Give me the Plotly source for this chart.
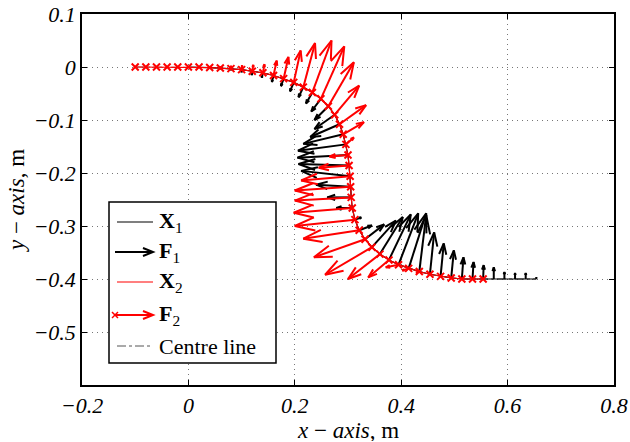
import plotly.graph_objects as go

# ---------------- data ----------------
# sampled positions along the centre line (x, y) in m
path_x = [-0.100, -0.080, -0.060, -0.040, -0.020, 0.000, 0.020, 0.040, 0.060, 0.080,
          0.100, 0.120, 0.140, 0.160, 0.179, 0.198, 0.216, 0.233, 0.249, 0.263,
          0.275, 0.284, 0.291, 0.296, 0.300, 0.302, 0.304, 0.305, 0.306, 0.308,
          0.313, 0.321, 0.332, 0.345, 0.360, 0.377, 0.395, 0.414, 0.434, 0.454,
          0.474, 0.494, 0.514, 0.534, 0.554, 0.574, 0.594, 0.614, 0.634, 0.654]
path_y = [0.000, 0.000, 0.000, 0.000, 0.000, 0.000, -0.000, -0.001, -0.002, -0.003,
          -0.005, -0.008, -0.011, -0.016, -0.022, -0.029, -0.038, -0.048, -0.060, -0.074,
          -0.090, -0.108, -0.127, -0.146, -0.166, -0.186, -0.206, -0.226, -0.246, -0.266,
          -0.288, -0.308, -0.325, -0.340, -0.353, -0.364, -0.373, -0.380, -0.386, -0.391,
          -0.395, -0.398, -0.400, -0.400, -0.400, -0.400, -0.400, -0.400, -0.400, -0.400]

# X1 = samples 5..49, X2 = samples 0..44
x1_start, x2_start, n_pts = 5, 0, 45

# force F1 (at X1) components
f1_u = [0, 0, 0, 0, 0, 0.000, -0.001, -0.002, -0.003, -0.005,
        -0.007, -0.009, -0.012, -0.018, -0.026, -0.038, -0.055, -0.075, -0.090, -0.095,
        -0.095, -0.092, -0.065, -0.045, -0.030, 0.012, 0.024, 0.036, 0.045, 0.043,
        0.041, 0.037, 0.033, 0.013, 0.008, 0.006, 0.005, 0.003, 0.002, 0.001,
        0.000, 0.000, 0.000, 0.000, 0.000]
f1_v = [0, 0, 0, -0.002, -0.003, -0.005, -0.007, -0.009, -0.012, -0.014,
        -0.017, -0.019, -0.021, -0.024, -0.026, -0.027, -0.024, -0.018, -0.012, -0.005,
        0.003, 0.010, 0.004, 0.000, 0.000, 0.004, 0.009, 0.028, 0.050, 0.070,
        0.086, 0.097, 0.104, 0.107, 0.079, 0.062, 0.052, 0.041, 0.032, 0.026,
        0.022, 0.013, 0.011, 0.011, 0.003]

# force F2 (at X2) components
f2_u = [0, 0, 0, 0, 0, 0, 0.000, 0.000, 0.000, 0.000,
        0.001, 0.002, 0.003, 0.006, 0.009, 0.013, 0.022, 0.036, 0.044, 0.048,
        0.046, 0.050, 0.039, 0.015, -0.035, -0.057, -0.092, -0.105, -0.106, -0.110,
        -0.113, -0.105, -0.096, -0.088, -0.060, -0.039, -0.024, -0.012, -0.006, 0,
        0, 0, 0, 0, 0]
f2_v = [0, 0, 0, 0, 0, 0, 0.001, 0.002, 0.003, 0.005,
        0.008, 0.012, 0.016, 0.028, 0.041, 0.060, 0.083, 0.098, 0.099, 0.083,
        0.055, 0.036, 0.023, 0.013, -0.003, -0.004, -0.008, -0.007, -0.006, -0.009,
        -0.012, -0.016, -0.034, -0.052, -0.047, -0.033, -0.005, -0.004, -0.002, 0,
        0, 0, 0, 0, 0]

x_ticks = [-0.2, 0, 0.2, 0.4, 0.6, 0.8]
y_ticks = [0.1, 0, -0.1, -0.2, -0.3, -0.4, -0.5]

# ---------------- helpers ----------------
def quiver_lines(xs, ys, us, vs, alpha=0.33, beta=0.33):
    lx, ly = [], []
    for x, y, u, v in zip(xs, ys, us, vs):
        if abs(u) < 1e-9 and abs(v) < 1e-9:
            continue
        lx += [x, x + u, None]
        ly += [y, y + v, None]
        hx = [x + u - alpha * (u + beta * v), x + u, x + u - alpha * (u - beta * v)]
        hy = [y + v - alpha * (v - beta * u), y + v, y + v - alpha * (v + beta * u)]
        lx += hx + [None]
        ly += hy + [None]
    return lx, ly

X1x = path_x[x1_start:x1_start + n_pts]
X1y = path_y[x1_start:x1_start + n_pts]
X2x = path_x[x2_start:x2_start + n_pts]
X2y = path_y[x2_start:x2_start + n_pts]

FONT = "Liberation Serif"
fig = go.Figure()

fig.add_trace(go.Scatter(x=path_x, y=path_y, mode="lines",
                         line=dict(color="#555555", width=1, dash="dashdot"),
                         showlegend=False, hoverinfo="skip"))
fig.add_trace(go.Scatter(x=X1x, y=X1y, mode="lines",
                         line=dict(color="black", width=1.2),
                         showlegend=False, hoverinfo="skip"))
ax1, ay1 = quiver_lines(X1x, X1y, f1_u, f1_v)
fig.add_trace(go.Scatter(x=ax1, y=ay1, mode="lines",
                         line=dict(color="black", width=2),
                         showlegend=False, hoverinfo="skip"))
fig.add_trace(go.Scatter(x=X2x, y=X2y, mode="lines",
                         line=dict(color="red", width=1.2),
                         showlegend=False, hoverinfo="skip"))
ax2, ay2 = quiver_lines(X2x, X2y, f2_u, f2_v)
fig.add_trace(go.Scatter(x=ax2, y=ay2, mode="lines",
                         line=dict(color="red", width=2),
                         showlegend=False, hoverinfo="skip"))
fig.add_trace(go.Scatter(x=X2x, y=X2y, mode="markers",
                         marker=dict(symbol="x-thin", size=7, color="red",
                                     line=dict(color="red", width=2)),
                         showlegend=False, hoverinfo="skip"))

# ---------------- layout ----------------
W, H = 630, 442
L, R, T, B = 82, 16, 14, 57
pw, ph = W - L - R, H - T - B

def px(x):
    return (x - L) / pw

def py(y):
    return (H - B - y) / ph

axis_common = dict(showline=True, linecolor="black", linewidth=1.5, mirror="ticks",
                   ticks="inside", ticklen=5, tickwidth=1, tickcolor="black",
                   showgrid=True, gridcolor="#777777", griddash="1px,4px", gridwidth=1,
                   zeroline=False, automargin=False,
                   tickfont=dict(family=FONT, size=22, style="italic", color="black"))

fig.update_layout(
    width=W, height=H,
    margin=dict(l=L, r=R, t=T, b=B),
    paper_bgcolor="white", plot_bgcolor="white",
    showlegend=False,
    xaxis=dict(range=[-0.2, 0.8], tickvals=x_ticks, **axis_common),
    yaxis=dict(range=[-0.6, 0.1], tickvals=y_ticks,
               title=dict(text="<i>y</i> − <i>axis</i>, m", standoff=2,
                          font=dict(family=FONT, size=23, color="black")),
               **axis_common),
)

# x-axis title as an annotation for exact placement
fig.add_annotation(xref="paper", yref="paper", x=0.5, y=py(430),
                   text="<i>x</i> − <i>axis</i>, m", showarrow=False,
                   xanchor="center", yanchor="middle", height=22, valign="middle",
                   font=dict(family=FONT, size=23, color="black"))

# ---------------- custom legend ----------------
shapes = []
shapes.append(dict(type="rect", xref="paper", yref="paper",
                   x0=px(109), x1=px(276), y0=py(363), y1=py(202),
                   line=dict(color="black", width=1.5), fillcolor="white", layer="above"))

rows = [222, 252, 282, 315, 346]
seg = (117, 153)

def legline(yp, color, width, dash="solid", x0=seg[0]):
    shapes.append(dict(type="line", xref="paper", yref="paper",
                       x0=px(x0), x1=px(seg[1]), y0=py(yp), y1=py(yp),
                       line=dict(color=color, width=width, dash=dash), layer="above"))

def leghead(yp, color):
    tip = seg[1]
    path = "M {a},{b} L {c},{d} L {e},{f}".format(
        a=px(tip - 10), b=py(yp - 4), c=px(tip), d=py(yp), e=px(tip - 10), f=py(yp + 4))
    shapes.append(dict(type="path", xref="paper", yref="paper", path=path,
                       line=dict(color=color, width=2), layer="above"))

legline(rows[0], "black", 1.2)
legline(rows[1], "black", 2, x0=115)
leghead(rows[1], "black")
legline(rows[2], "red", 1.2)
legline(rows[3], "red", 2, x0=115)
leghead(rows[3], "red")
legline(rows[4], "#555555", 1, dash="dashdot")
for dx, dy in [(-3, -3), (-3, 3)]:
    shapes.append(dict(type="line", xref="paper", yref="paper",
                       x0=px(115 + dx), x1=px(115 - dx), y0=py(rows[3] + dy), y1=py(rows[3] - dy),
                       line=dict(color="red", width=1.5), layer="above"))

fig.update_layout(shapes=shapes)

labels = ["<b>X</b><sub>1</sub>", "<b>F</b><sub>1</sub>", "<b>X</b><sub>2</sub>",
          "<b>F</b><sub>2</sub>", "Centre line"]
for lab, yp in zip(labels, rows):
    fig.add_annotation(xref="paper", yref="paper", x=px(157), y=py(yp),
                       text=lab, showarrow=False, xanchor="left", yanchor="middle",
                       font=dict(family=FONT, size=22, color="black"))

fig.write_html("out.html", config={"displayModeBar": False},
               post_script="document.body.style.margin='0px';")
